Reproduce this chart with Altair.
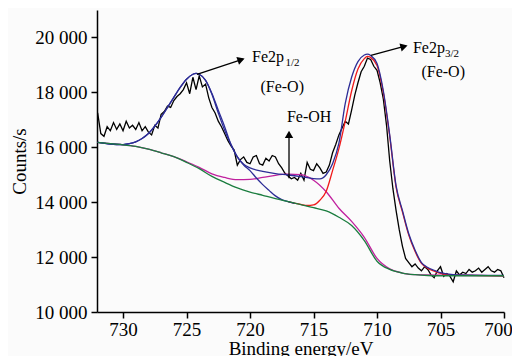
import altair as alt
import pandas as pd

FONT = "Liberation Serif"

# ---- measured spectrum (black) ----
raw_energy = [732.0,
    731.75, 731.5, 731.25, 731.0, 730.75, 730.5, 730.25, 730.0,
    729.75, 729.5, 729.25, 729.0, 728.75, 728.5, 728.25, 728.0,
    727.75, 727.5, 727.25, 727.0, 726.75, 726.5, 726.25, 726.0,
    725.75, 725.5, 725.25, 725.0, 724.75, 724.5, 724.25, 724.0,
    723.75, 723.5, 723.25, 723.0, 722.75, 722.5, 722.25, 722.0,
    721.75, 721.5, 721.25, 721.0, 720.75, 720.5, 720.25, 720.0,
    719.75, 719.5, 719.25, 719.0, 718.75, 718.5, 718.25, 718.0,
    717.75, 717.5, 717.25, 717.0, 716.75, 716.5, 716.25, 716.0,
    715.75, 715.5, 715.25, 715.0, 714.75, 714.5, 714.25, 714.0,
    713.75, 713.5, 713.25, 713.0, 712.75, 712.5, 712.25, 712.0,
    711.75, 711.5, 711.25, 711.0, 710.75, 710.5, 710.25, 710.0,
    709.75, 709.5, 709.25, 709.0, 708.75, 708.5, 708.25, 708.0,
    707.75, 707.5, 707.25, 707.0, 706.75, 706.5, 706.25, 706.0,
    705.75, 705.5, 705.25, 705.0, 704.75, 704.5, 704.25, 704.0,
    703.75, 703.5, 703.25, 703.0, 702.75, 702.5, 702.25, 702.0,
    701.75, 701.5, 701.25, 701.0, 700.75, 700.5, 700.25, 700.0]
raw_counts = [17250,
    16500, 16400, 16750, 16600, 16900, 16650, 16850, 16600,
    16950, 16700, 16800, 16650, 16900, 16600, 16750, 16550,
    16450, 16800, 16700, 17200, 17300, 17500, 17450, 17700,
    17850, 17950, 18100, 18350, 17950, 18550, 18100, 18600,
    18200, 18300, 17800, 17450, 17250, 16950, 16750, 16500,
    16250, 16050, 15900, 15350, 15550, 15650, 15450, 15400,
    15650, 15700, 15400, 15350, 15600, 15500, 15700, 15650,
    15400, 15250, 15050, 14950, 14850, 14900, 14800, 15050,
    14800, 15450, 15200, 15150, 15400, 15250, 15050, 15100,
    15350, 15800, 16100, 16450, 16700, 16950, 16850, 17350,
    17900, 18350, 18750, 18950, 19250, 19200, 18950, 18800,
    18350, 17750, 16800, 15500, 14500, 13700, 13000, 12400,
    11950, 11800, 11650, 11750, 11600, 11500, 11650, 11550,
    11350, 11250, 11500, 11650, 11300, 11400, 11300, 11100,
    11500, 11350, 11450, 11400, 11550, 11450, 11500, 11600,
    11450, 11550, 11650, 11500, 11450, 11550, 11500, 11250]

# ---- background (green) ----
bg_energy = [732, 731, 730, 729, 728, 727, 726, 725, 724, 723, 722, 721, 720, 719,
             718, 717, 716, 715, 714, 713, 712, 711, 710, 709, 708, 707, 706, 705, 700]
bg_counts = [16180, 16130, 16090, 16030, 15930, 15800, 15660, 15450, 15220, 14940,
             14720, 14520, 14370, 14250, 14130, 14020, 13910, 13800, 13680, 13450,
             13150, 12600, 11850, 11550, 11420, 11360, 11330, 11320, 11320]

# ---- Fe-OH component (magenta) ----
oh_energy = [732, 731, 730, 729, 728, 727, 726, 725, 724, 723, 722, 721, 720, 719,
             718, 717, 716, 715, 714, 713, 712, 711, 710, 709, 708, 707, 700]
oh_counts = [16180, 16130, 16090, 16030, 15930, 15800, 15660, 15470, 15270, 15030,
             14900, 14820, 14830, 14900, 14980, 15020, 15000, 14800, 14380, 13780,
             13300, 12720, 11950, 11570, 11420, 11360, 11320]

# ---- Fe2p1/2 component (blue) ----
p1_energy = [732, 731, 730, 729.5, 729, 728.5, 728, 727.5, 727, 726.5, 726, 725.5,
             725, 724.5, 724.25, 724, 723.5, 723, 722.5, 722, 721.5, 721, 720.5,
             720, 719.5, 719, 718.5, 718, 717.5, 717, 716.5]
p1_counts = [16180, 16120, 16100, 16130, 16200, 16320, 16500, 16770, 17090, 17450,
             17820, 18180, 18480, 18660, 18690, 18660, 18440, 17930, 17250, 16620,
             16100, 15650, 15350, 15150, 14880, 14640, 14430, 14230, 14090, 14020, 13960]

# ---- Fe2p3/2 component (red) ----
p3_energy = [717, 716, 715.5, 715, 714.5, 714, 713.5, 713, 712.5, 712, 711.5, 711,
             710.75, 710.5, 710, 709.5, 709, 708.5, 708, 707.5, 707, 706.5, 706,
             705.5, 705, 704, 700]
p3_counts = [14020, 13920, 13880, 13900, 14070, 14400, 15150, 15950, 16950, 18050,
             18850, 19230, 19310, 19270, 18980, 17980, 16400, 14550, 13650, 12800,
             12200, 11770, 11590, 11490, 11410, 11350, 11320]

# ---- fitted envelope (blue) ----
env_energy = [732, 731, 730, 729.5, 729, 728.5, 728, 727.5, 727, 726.5, 726, 725.5,
              725, 724.5, 724.25, 724, 723.5, 723, 722.5, 722, 721.5, 721, 720.5,
              720, 719, 718, 717, 716, 715, 714.5, 714, 713.5, 713, 712.5, 712,
              711.5, 711, 710.75, 710.5, 710, 709.5, 709, 708.5, 708, 707.5, 707,
              706.5, 706, 705.5, 705, 704, 700]
env_counts = [16180, 16120, 16100, 16130, 16200, 16320, 16500, 16770, 17090, 17450,
              17820, 18180, 18480, 18660, 18690, 18660, 18440, 17960, 17350, 16750,
              16100, 15650, 15380, 15250, 15120, 15040, 14990, 14930, 14860, 14850,
              15000, 15400, 16150, 17600, 18550, 19120, 19360, 19390, 19340, 19050,
              18050, 16450, 14600, 13700, 12850, 12250, 11800, 11620, 11520, 11430,
              11360, 11330]

x_ticks = [730, 725, 720, 715, 710, 705, 700]
y_ticks = [10000, 12000, 14000, 16000, 18000, 20000]

# ---- annotations ----
arrow_x = [724.18, 710.48, 716.93]
arrow_y = [18655, 19345, 14873]
arrow_x2 = [720.55, 707.72, 716.93]
arrow_y2 = [19210, 19690, 16500]
head_x = [720.70, 707.87, 716.93]
head_y = [19189, 19669, 16470]
head_angle = [341.6, 344.9, 270]

main_text = ["Fe2p", "(Fe-O)", "Fe2p", "(Fe-O)", "Fe-OH"]
main_text_x = [719.84, 719.18, 707.17, 706.50, 717.09]
main_text_y = [19091, 18018, 19418, 18545, 16909]
sub_text = ["1/2", "3/2"]
sub_text_x = [717.21, 704.65]
sub_text_y = [18964, 19291]

x_scale = alt.Scale(domain=[732.05, 700], nice=False, zero=False)
y_scale = alt.Scale(domain=[10000, 21000], nice=False, zero=False)

x_axis = alt.Axis(values=x_ticks, format="d", title="Binding energy/eV", grid=False,
                  labelFont=FONT, titleFont=FONT, labelFontSize=19, titleFontSize=19,
                  titleFontWeight="normal", labelColor="black", titleColor="black",
                  domainColor="black", tickColor="black", domainWidth=1.5, tickWidth=1.5,
                  tickSize=6, labelPadding=2, titleY=42, titleBaseline="alphabetic",
                  labelOffset={"condition": {"test": "datum.value == 700", "value": -6},
                               "value": 0},
                  labelFlush=False, labelOverlap=False)
y_axis = alt.Axis(values=y_ticks, labelExpr="replace(format(datum.value, ','), ',', ' ')",
                  title="Counts/s", grid=False,
                  labelFont=FONT, titleFont=FONT, labelFontSize=19, titleFontSize=19,
                  titleFontWeight="normal", labelColor="black", titleColor="black",
                  domainColor="black", tickColor="black", domainWidth=1.5, tickWidth=1.5,
                  tickSize=6, labelPadding=4, titleX=-72, titleY=151, titleAngle=270,
                  titleAlign="center", titleBaseline="alphabetic",
                  labelFlush=False, labelOverlap=False)

X = lambda f: alt.X(f, scale=x_scale, axis=x_axis)
Y = lambda f: alt.Y(f, scale=y_scale, axis=y_axis)


def curve(energy, counts, color, interp="monotone", width=1.3):
    df = pd.DataFrame({"x": energy, "y": counts})
    return alt.Chart(df).mark_line(color=color, strokeWidth=width, interpolate=interp).encode(
        x=X("x:Q"), y=Y("y:Q"))


raw = curve(raw_energy, raw_counts, "#000000", interp="linear", width=1.3)
oh = curve(oh_energy, oh_counts, "#c0209e")
p3 = curve(p3_energy, p3_counts, "#f01a1a")
p1 = curve(p1_energy, p1_counts, "#2c2c96")
env = curve(env_energy, env_counts, "#2c2c96")
bg = curve(bg_energy, bg_counts, "#1b7d3f")

arrow_df = pd.DataFrame({"x": arrow_x, "y": arrow_y, "x2": arrow_x2, "y2": arrow_y2})
shafts = alt.Chart(arrow_df).mark_rule(color="black", strokeWidth=1.3).encode(
    x=X("x:Q"), y=Y("y:Q"), x2="x2:Q", y2="y2:Q")

head_df = pd.DataFrame({"x": head_x, "y": head_y, "angle": head_angle})
heads = alt.Chart(head_df).mark_point(shape="triangle-right", filled=True, color="black",
                                      size=70, opacity=1).encode(
    x=X("x:Q"), y=Y("y:Q"), angle=alt.Angle("angle:Q", scale=None))

text_df = pd.DataFrame({"x": main_text_x, "y": main_text_y, "t": main_text})
texts = alt.Chart(text_df).mark_text(align="left", baseline="alphabetic", font=FONT,
                                     fontSize=16, color="black").encode(
    x=X("x:Q"), y=Y("y:Q"), text="t:N")

sub_df = pd.DataFrame({"x": sub_text_x, "y": sub_text_y, "t": sub_text})
subs = alt.Chart(sub_df).mark_text(align="left", baseline="alphabetic", font=FONT,
                                   fontSize=11, color="black").encode(
    x=X("x:Q"), y=Y("y:Q"), text="t:N")

chart = alt.layer(raw, oh, p3, p1, env, bg, shafts, heads, texts, subs).properties(
    width=407, height=302,
    autosize=alt.AutoSizeParams(type="none"),
    padding={"left": 89, "top": 2, "right": 8, "bottom": 44},
    background="#fbfbfb",
).configure_view(stroke=None).configure_text(font=FONT)

chart.save("out.html", embed_options={"renderer": "svg", "actions": False})
